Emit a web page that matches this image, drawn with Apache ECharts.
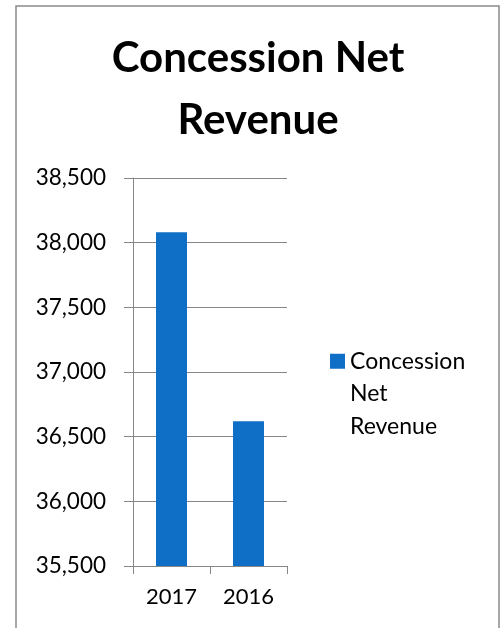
<!DOCTYPE html>
<html>
<head>
<meta charset="utf-8">
<script src="https://cdn.jsdelivr.net/npm/echarts@6/dist/echarts.min.js"></script>
<style>
html,body{margin:0;padding:0;background:#fff;}
#chart{width:503px;height:628px;}
</style>
</head>
<body>
<div id="chart"></div>
<script>
const titleText = 'Concession Net\nRevenue';
const categories = ['2017', '2016'];
const seriesName = 'Concession Net Revenue';
const values = [38080, 36620];
const yMin = 35500, yMax = 38500, yStep = 500;

const chart = echarts.init(document.getElementById('chart'));
const gray = '#868686';
const font = 'Lato, "Open Sans", sans-serif';
chart.setOption({
  animation: false,
  backgroundColor: '#fff',
  graphic: [{
    type: 'rect',
    shape: { x: 16, y: 6, width: 483, height: 700 },
    style: { fill: 'none', stroke: '#8a8a8a', lineWidth: 1.5 },
    silent: true
  }],
  title: {
    text: titleText,
    left: 258,
    top: 27,
    textAlign: 'center',
    padding: 0,
    textStyle: { fontFamily: font, fontWeight: 'bold', fontSize: 42, lineHeight: 62, color: '#000' }
  },
  legend: {
    orient: 'vertical',
    left: 330,
    top: 280,
    padding: 0,
    itemWidth: 15,
    itemHeight: 15,
    icon: 'rect',
    // two leading blank lines keep the first word level with the swatch
    formatter: n => '\n\n' + n.split(' ').join('\n'),
    textStyle: { fontFamily: font, fontSize: 23, lineHeight: 32.5, color: '#000' }
  },
  grid: { left: 133, right: 216, top: 178, bottom: 62, containLabel: false },
  xAxis: {
    type: 'category',
    data: categories,
    axisLine: { lineStyle: { color: gray, width: 1 } },
    axisTick: { show: true, length: 8, lineStyle: { color: gray } },
    axisLabel: { fontFamily: font, fontSize: 22, color: '#000', margin: 20 }
  },
  yAxis: {
    type: 'value',
    min: yMin,
    max: yMax,
    interval: yStep,
    axisLine: { show: true, lineStyle: { color: gray, width: 1 } },
    axisTick: { show: true, length: 9, lineStyle: { color: gray } },
    splitLine: { show: true, lineStyle: { color: gray, width: 1 } },
    axisLabel: {
      fontFamily: font, fontSize: 22.5, color: '#000', margin: 27,
      formatter: v => v.toLocaleString('en-US')
    }
  },
  series: [{
    name: seriesName,
    type: 'bar',
    data: values,
    barWidth: 31,
    itemStyle: { color: '#0F6FC6' }
  }]
});
</script>
</body>
</html>
